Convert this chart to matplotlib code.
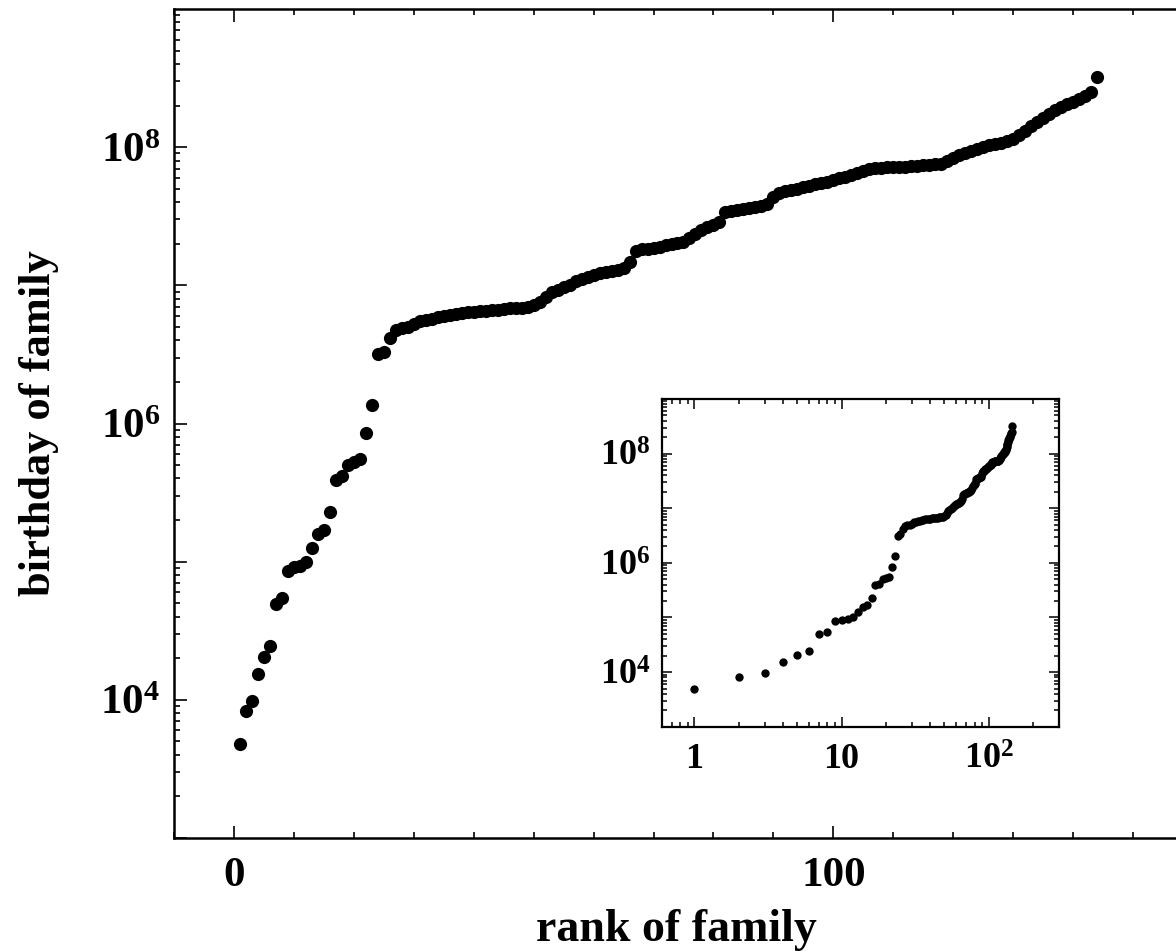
import numpy as np
import matplotlib
matplotlib.use("Agg")
import matplotlib.pyplot as plt
from matplotlib.ticker import LogLocator, MultipleLocator, FixedLocator, NullFormatter

plt.rcParams['font.family'] = ['Liberation Serif', 'DejaVu Serif']
plt.rcParams['font.weight'] = 'bold'
plt.rcParams['mathtext.fontset'] = 'custom'
plt.rcParams['mathtext.rm'] = 'Liberation Serif:bold'
plt.rcParams['mathtext.it'] = 'Liberation Serif:bold'
plt.rcParams['mathtext.bf'] = 'Liberation Serif:bold'

# birthday of each family, sorted by rank
birthday = [
    4.8e3, 8.3e3, 9.8e3, 1.55e4, 2.04e4, 2.45e4, 4.9e4, 5.5e4, 8.5e4, 9.1e4,
    9.3e4, 1.0e5, 1.26e5, 1.58e5, 1.70e5, 2.29e5, 3.9e5, 4.17e5, 5.0e5, 5.25e5,
    5.5e5, 8.5e5, 1.35e6, 3.16e6, 3.31e6, 4.17e6, 4.79e6, 4.9e6, 5.0e6, 5.25e6,
    5.5e6, 5.6e6, 5.75e6, 5.9e6, 6.0e6, 6.15e6, 6.25e6, 6.3e6, 6.4e6, 6.45e6,
    6.5e6, 6.55e6, 6.6e6, 6.65e6, 6.7e6, 6.8e6, 6.85e6, 6.9e6, 7.0e6, 7.15e6,
    7.6e6, 8.3e6, 8.9e6, 9.3e6, 9.65e6, 1.0e7, 1.07e7, 1.12e7, 1.15e7, 1.19e7,
    1.22e7, 1.24e7, 1.27e7, 1.30e7, 1.33e7, 1.48e7, 1.78e7, 1.82e7, 1.84e7, 1.87e7,
    1.9e7, 1.95e7, 2.0e7, 2.03e7, 2.07e7, 2.19e7, 2.34e7, 2.51e7, 2.63e7, 2.75e7,
    2.88e7, 3.39e7, 3.47e7, 3.52e7, 3.59e7, 3.63e7, 3.72e7, 3.78e7, 3.89e7, 4.37e7,
    4.68e7, 4.79e7, 4.9e7, 5.0e7, 5.13e7, 5.25e7, 5.37e7, 5.5e7, 5.62e7, 5.82e7,
    5.96e7, 6.1e7, 6.31e7, 6.53e7, 6.76e7, 6.92e7, 7.05e7, 7.11e7, 7.16e7, 7.19e7,
    7.21e7, 7.24e7, 7.28e7, 7.33e7, 7.38e7, 7.45e7, 7.52e7, 7.59e7, 7.94e7, 8.32e7,
    8.71e7, 9.0e7, 9.33e7, 9.66e7, 1.0e8, 1.03e8, 1.06e8, 1.08e8, 1.11e8, 1.15e8,
    1.22e8, 1.32e8, 1.43e8, 1.51e8, 1.62e8, 1.74e8, 1.86e8, 1.95e8, 2.04e8, 2.14e8,
    2.24e8, 2.34e8, 2.51e8, 3.24e8,
]
rank = list(range(1, len(birthday) + 1))

main_yticks = [1e4, 1e6, 1e8]
main_ylabels = [r'$10^{4}$', r'$10^{6}$', r'$10^{8}$']
main_xticks = [0, 100]
main_xlabels = ['0', '100']
inset_xticks = [1, 10, 100]
inset_xlabels = ['1', '10', r'$10^{2}$']

fig = plt.figure(figsize=(11.76, 9.51), dpi=100)

## main axes: linear rank, log birthday
ax = fig.add_axes([174/1176, 113/951, 1004/1176, 829/951])
ax.plot(rank, birthday, 'o', color='black', ms=9.5, mew=0)
ax.set_yscale('log')
ax.set_xlim(-10, 157.5)
ax.set_ylim(1e3, 1e9)

ax.xaxis.set_major_locator(FixedLocator(main_xticks))
ax.set_xticklabels(main_xlabels)
ax.xaxis.set_minor_locator(MultipleLocator(10))
ax.yaxis.set_minor_locator(LogLocator(base=10, subs=np.arange(2, 10), numticks=20))
ax.yaxis.set_minor_formatter(NullFormatter())
ax.set_yticks(main_yticks, minor=False)
ax.set_yticklabels(main_ylabels)

ax.tick_params(which='both', direction='in', top=True, right=False, width=1.2)
ax.tick_params(which='major', length=9, labelsize=31, pad=10)
ax.tick_params(axis='x', which='major', pad=14)
ax.tick_params(which='minor', length=4.5)
for side in ['left', 'bottom', 'top', 'right']:
    ax.spines[side].set_linewidth(1.8)

# unlabelled decade ticks in between the labelled ones
for y in [1e3, 1e5, 1e7, 1e9]:
    ax.axhline(y, xmin=0, xmax=12/1004, color='black', lw=1.2)

ax.set_xlabel('rank of family', fontsize=33, fontweight='bold', labelpad=10)
ax.set_ylabel('birthday of family', fontsize=32, fontweight='bold', labelpad=30)

## inset: log-log view of the same data
ins = fig.add_axes([661.7/1176, 224.3/951, 397.3/1176, 327.7/951])
ins.loglog(rank, birthday, 'o', color='black', ms=6, mew=0)
ins.set_xlim(0.6, 300)
ins.set_ylim(1e3, 1e9)
ins.xaxis.set_major_locator(FixedLocator(inset_xticks))
ins.set_xticklabels(inset_xlabels)
ins.xaxis.set_minor_locator(LogLocator(base=10, subs=np.arange(2, 10), numticks=20))
ins.xaxis.set_minor_formatter(NullFormatter())
ins.yaxis.set_major_locator(LogLocator(base=10, numticks=20))
ins.yaxis.set_minor_locator(LogLocator(base=10, subs=np.arange(2, 10), numticks=20))
ins.yaxis.set_minor_formatter(NullFormatter())
ins.set_yticklabels([r'$10^{%d}$' % e if e in (4, 6, 8) else '' for e in
                     np.log10(ins.get_yticks()).round().astype(int)])
ins.set_ylim(1e3, 1e9)
ins.tick_params(which='both', direction='in', top=True, right=True, width=1.1)
ins.tick_params(which='major', length=7, labelsize=26, pad=8)
ins.tick_params(axis='x', which='major', pad=12)
ins.tick_params(which='minor', length=3.5)
for side in ['left', 'bottom', 'top', 'right']:
    ins.spines[side].set_linewidth(1.6)

fig.savefig('out.png', dpi=100)
